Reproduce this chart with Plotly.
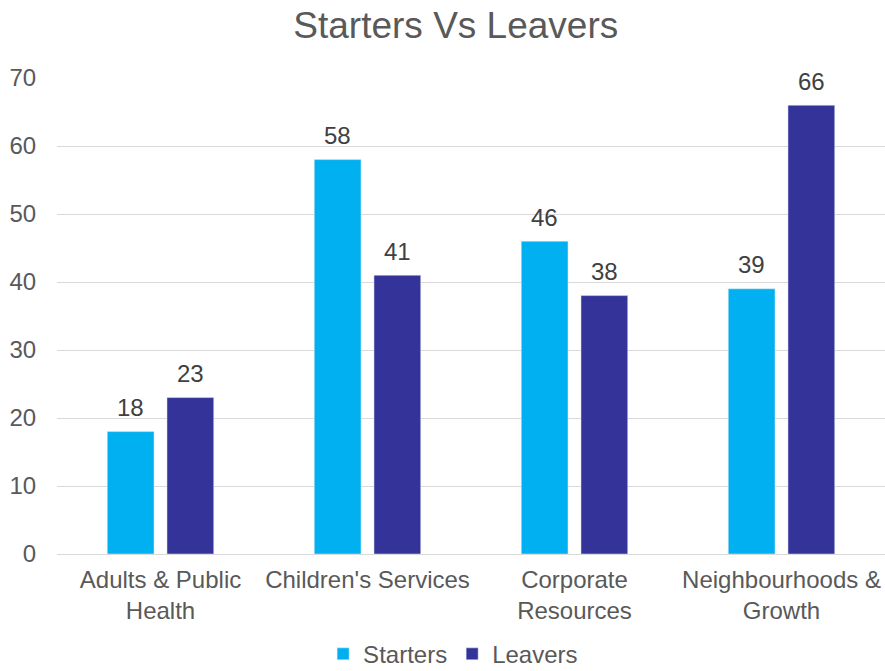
import plotly.graph_objects as go

# Department categories (two-line labels) and headcount movements
categories = ["Adults & Public<br>Health", "Children's Services", "Corporate<br>Resources", "Neighbourhoods &<br>Growth"]
starters = [18, 58, 46, 39]
leavers = [23, 41, 38, 66]
y_ticks = [0, 10, 20, 30, 40, 50, 60, 70]

FONT = "Liberation Sans, Arial, sans-serif"
TEXT_GREY = "#595959"
LABEL_GREY = "#404040"
LABEL_SIZE = 24

fig = go.Figure()
series = [("Starters", starters, "#00B0F0", -30), ("Leavers", leavers, "#333399", 30)]
for name, values, colour, shift in series:
    fig.add_trace(go.Bar(name=name, x=categories, y=values, marker=dict(color=colour)))
    # value labels sitting above each bar
    for cat, v in zip(categories, values):
        fig.add_annotation(
            x=cat, y=v, xref="x", yref="y", text=str(v), showarrow=False,
            xshift=shift, yshift=24, yanchor="middle",
            font=dict(size=LABEL_SIZE, color=LABEL_GREY, family=FONT),
        )

fig.update_layout(
    width=885, height=671,
    margin=dict(l=57, r=0, t=78, b=117, autoexpand=False),
    paper_bgcolor="white", plot_bgcolor="white",
    barmode="group", bargap=0.423, bargroupgap=0.217,
    font=dict(family=FONT, size=LABEL_SIZE, color=TEXT_GREY),
    title=dict(text="Starters Vs Leavers", x=0.515, xanchor="center", xref="container",
               y=0.963, yanchor="middle", yref="container",
               font=dict(size=37, color=TEXT_GREY, family=FONT)),
    legend=dict(orientation="h", x=0.512, xanchor="center", xref="container",
                y=0.025, yanchor="middle", yref="container",
                font=dict(size=LABEL_SIZE, color=TEXT_GREY, family=FONT),
                itemwidth=30, traceorder="normal"),
    showlegend=True,
)
fig.update_xaxes(
    showgrid=False, showline=False, zeroline=False, automargin=False,
    tickfont=dict(size=LABEL_SIZE, color=TEXT_GREY),
    ticks="outside", ticklen=4, tickcolor="rgba(0,0,0,0)",
)
fig.update_yaxes(
    range=[0, 70], tickvals=y_ticks, automargin=False,
    showgrid=True, gridcolor="#D9D9D9", gridwidth=1.3,
    zeroline=True, zerolinecolor="#D9D9D9", zerolinewidth=1.3,
    showline=False,
    tickfont=dict(size=LABEL_SIZE, color=TEXT_GREY),
    ticks="outside", ticklen=15, tickcolor="rgba(0,0,0,0)",
)

fig.write_html("out.html")
